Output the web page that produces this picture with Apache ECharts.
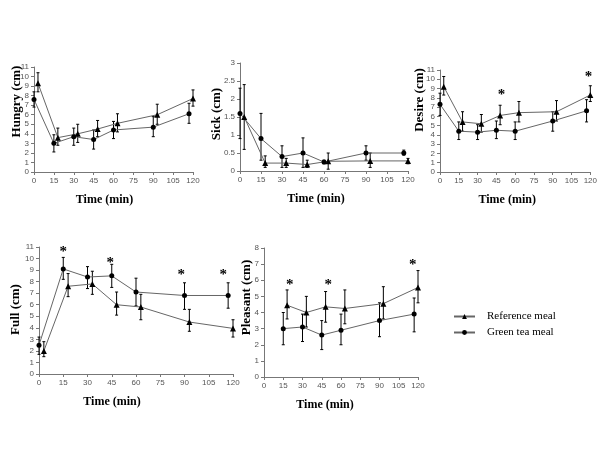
<!DOCTYPE html>
<html><head><meta charset="utf-8">
<script src="https://cdn.jsdelivr.net/npm/echarts@6/dist/echarts.min.js"></script>
<style>html,body{margin:0;padding:0;background:#fff}#c{width:600px;height:450px}</style>
</head><body><div id="c"></div>
<script>
const xTicks = [0, 15, 30, 45, 60, 75, 90, 105, 120];
const timesGreen = [0, 15, 30, 45, 60, 90, 117];
const timesRef = [3, 18, 33, 48, 63, 93, 120];
const timesGreenPleasant = [15, 30, 45, 60, 90, 117];
const timesRefPleasant = [18, 33, 48, 63, 93, 120];

const hungryGreen = [7.6, 3.0, 3.7, 3.4, 4.4, 4.7, 6.1];
const hungryGreenLow = [6.8, 2.1, 2.8, 2.4, 3.5, 3.7, 5.1];
const hungryGreenHigh = [8.4, 3.9, 4.6, 4.4, 5.3, 5.8, 7.2];
const hungryRef = [9.3, 3.6, 4.0, 4.5, 5.1, 6.0, 7.7];
const hungryRefLow = [8.4, 2.8, 3.1, 3.7, 4.2, 5.0, 6.9];
const hungryRefHigh = [10.4, 4.6, 5.0, 5.4, 6.1, 7.1, 8.6];

const sickGreen = [1.6, 0.9, 0.4, 0.5, 0.25, 0.5, 0.5];
const sickGreenLow = [0.9, 0.3, 0.1, 0.1, 0.2, 0.3, 0.44];
const sickGreenHigh = [2.3, 1.6, 0.7, 0.92, 0.3, 0.7, 0.58];
const sickRef = [1.5, 0.22, 0.22, 0.18, 0.27, 0.28, 0.28];
const sickRefLow = [0.6, 0.1, 0.1, 0.1, 0.05, 0.1, 0.2];
const sickRefHigh = [2.4, 0.42, 0.35, 0.3, 0.5, 0.5, 0.35];

const desireGreen = [7.3, 4.4, 4.3, 4.5, 4.4, 5.5, 6.6];
const desireGreenLow = [6.1, 3.5, 3.5, 3.6, 3.5, 4.4, 5.4];
const desireGreenHigh = [8.5, 5.4, 5.1, 5.5, 5.4, 6.5, 7.8];
const desireRef = [9.2, 5.4, 5.2, 6.1, 6.4, 6.5, 8.3];
const desireRefLow = [8.3, 4.4, 4.3, 5.1, 5.4, 5.5, 7.6];
const desireRefHigh = [10.3, 6.5, 6.2, 7.2, 7.6, 7.7, 9.3];

const fullGreen = [2.5, 9.1, 8.4, 8.5, 7.1, 6.8, 6.8];
const fullGreenLow = [1.7, 8.2, 7.4, 7.5, 5.9, 5.6, 5.7];
const fullGreenHigh = [3.2, 10.1, 9.3, 9.5, 8.3, 7.9, 7.9];
const fullRef = [2.0, 7.6, 7.8, 6.0, 5.8, 4.5, 3.95];
const fullRefLow = [1.5, 6.7, 6.9, 5.1, 4.7, 3.7, 3.2];
const fullRefHigh = [2.8, 8.7, 8.9, 7.1, 6.9, 5.6, 4.7];

const pleasantGreen = [3.0, 3.1, 2.6, 2.9, 3.5, 3.9];
const pleasantGreenLow = [2.0, 2.2, 1.7, 2.0, 2.5, 2.8];
const pleasantGreenHigh = [4.0, 3.9, 3.5, 3.9, 4.6, 4.9];
const pleasantRef = [4.45, 4.0, 4.35, 4.25, 4.55, 5.55];
const pleasantRefLow = [3.6, 3.1, 3.4, 3.3, 3.6, 4.6];
const pleasantRefHigh = [5.4, 5.0, 5.3, 5.4, 5.6, 6.6];

const desireStars = [[49, 8.6], [118.5, 10.6]];
const fullStars = [[15, 10.8], [44, 9.9], [88, 8.8], [114, 8.8]];
const pleasantStars = [[20, 5.9], [50, 5.9], [116, 7.1]];

const seriesNames = ['Reference meal', 'Green tea meal'];

// layout per panel: grid, y-title gap / upward shift, x-title leftward shift
const panels = [
  {title: 'Hungry (cm)', grid: {left: 34, top: 67, width: 159, height: 105}, ymax: 11, yint: 1, yGap: 11, yUp: 18, xLeft: 9,
   tg: timesGreen, tr: timesRef, g: hungryGreen, gl: hungryGreenLow, gh: hungryGreenHigh, r: hungryRef, rl: hungryRefLow, rh: hungryRefHigh, stars: []},
  {title: 'Sick (cm)', grid: {left: 240, top: 63, width: 168, height: 108}, ymax: 3, yint: 0.5, yGap: 17, yUp: 3, xLeft: 8,
   tg: timesGreen, tr: timesRef, g: sickGreen, gl: sickGreenLow, gh: sickGreenHigh, r: sickRef, rl: sickRefLow, rh: sickRefHigh, stars: []},
  {title: 'Desire (cm)', grid: {left: 440, top: 70, width: 153, height: 102}, ymax: 11, yint: 1, yGap: 14, yUp: 21, xLeft: 8,
   tg: timesGreen, tr: timesRef, g: desireGreen, gl: desireGreenLow, gh: desireGreenHigh, r: desireRef, rl: desireRefLow, rh: desireRefHigh, stars: desireStars},
  {title: 'Full (cm)', grid: {left: 39, top: 247, width: 194, height: 127}, ymax: 11, yint: 1, yGap: 17, yUp: 1, xLeft: 24,
   tg: timesGreen, tr: timesRef, g: fullGreen, gl: fullGreenLow, gh: fullGreenHigh, r: fullRef, rl: fullRefLow, rh: fullRefHigh, stars: fullStars},
  {title: 'Pleasant (cm)', grid: {left: 264, top: 248, width: 154, height: 129}, ymax: 8, yint: 1, yGap: 11, yUp: 15, xLeft: 16,
   tg: timesGreenPleasant, tr: timesRefPleasant, g: pleasantGreen, gl: pleasantGreenLow, gh: pleasantGreenHigh, r: pleasantRef, rl: pleasantRefLow, rh: pleasantRefHigh, stars: pleasantStars}
];

const titleFont = {fontFamily: 'Liberation Serif', fontWeight: 'bold', fontSize: 13, color: '#000'};
const tickFont = {fontFamily: 'Liberation Sans', fontSize: 8, color: '#555'};
const axisColor = '#777';

const grids = [], xAxes = [], yAxes = [], series = [];

function errRender(params, api) {
  const x = api.value(0);
  const lo = api.coord([x, api.value(1)]);
  const hi = api.coord([x, api.value(2)]);
  const cap = 1.5;
  const st = {stroke: '#000', lineWidth: 1};
  return {type: 'group', children: [
    {type: 'line', shape: {x1: lo[0], y1: lo[1], x2: hi[0], y2: hi[1]}, style: st},
    {type: 'line', shape: {x1: hi[0] - cap, y1: hi[1], x2: hi[0] + cap, y2: hi[1]}, style: st},
    {type: 'line', shape: {x1: lo[0] - cap, y1: lo[1], x2: lo[0] + cap, y2: lo[1]}, style: st}
  ]};
}
function starRender(params, api) {
  const p = api.coord([api.value(0), api.value(1)]);
  return {type: 'text', x: p[0], y: p[1] + 3, style: {text: '*', fontFamily: 'Liberation Serif', fontWeight: 'bold', fontSize: 15, fill: '#000', align: 'center', verticalAlign: 'middle'}};
}

panels.forEach((p, i) => {
  grids.push(p.grid);
  xAxes.push({type: 'value', gridIndex: i, min: xTicks[0], max: xTicks[xTicks.length - 1], interval: xTicks[1] - xTicks[0],
    name: 'Time (min)', nameLocation: 'middle', nameGap: 22, nameMoveOverlap: false,
    nameTextStyle: Object.assign({}, titleFont, {fontSize: 12, padding: [0, 2 * p.xLeft, 0, 0]}),
    axisLine: {show: true, lineStyle: {color: axisColor, width: 1}}, axisTick: {show: true, length: 3, lineStyle: {color: axisColor}},
    axisLabel: Object.assign({margin: 5}, tickFont), splitLine: {show: false}});
  yAxes.push({type: 'value', gridIndex: i, min: 0, max: p.ymax, interval: p.yint,
    name: p.title, nameLocation: 'middle', nameGap: p.yGap, nameRotate: 90, nameMoveOverlap: false,
    nameTextStyle: Object.assign({}, titleFont, {padding: [0, 0, 0, 2 * p.yUp]}),
    axisLine: {show: true, lineStyle: {color: axisColor, width: 1}}, axisTick: {show: true, length: 3, lineStyle: {color: axisColor}},
    axisLabel: Object.assign({margin: 5}, tickFont), splitLine: {show: false}});
  const ref = p.tr.map((t, k) => [t, p.r[k]]);
  const grn = p.tg.map((t, k) => [t, p.g[k]]);
  series.push({type: 'line', name: seriesNames[0], xAxisIndex: i, yAxisIndex: i, data: ref, symbol: 'triangle', symbolSize: 6,
    itemStyle: {color: '#000'}, lineStyle: {color: '#666', width: 1}, animation: false, z: 3});
  series.push({type: 'line', name: seriesNames[1], xAxisIndex: i, yAxisIndex: i, data: grn, symbol: 'circle', symbolSize: 5,
    itemStyle: {color: '#000'}, lineStyle: {color: '#666', width: 1}, animation: false, z: 3});
  series.push({type: 'custom', xAxisIndex: i, yAxisIndex: i, renderItem: errRender, animation: false, z: 2,
    data: p.tr.map((t, k) => [t, p.rl[k], p.rh[k]]).concat(p.tg.map((t, k) => [t, p.gl[k], p.gh[k]]))});
  if (p.stars.length) {
    series.push({type: 'custom', xAxisIndex: i, yAxisIndex: i, renderItem: starRender, animation: false, z: 4, data: p.stars});
  }
});

const chart = echarts.init(document.getElementById('c'), null, {renderer: 'canvas'});
chart.setOption({
  backgroundColor: '#fff',
  animation: false,
  grid: grids, xAxis: xAxes, yAxis: yAxes, series: series,
  legend: {data: seriesNames, orient: 'vertical', left: 453, top: 311, padding: 0, itemWidth: 21, itemHeight: 6, itemGap: 5,
    textStyle: {fontFamily: 'Liberation Serif', fontSize: 11, color: '#000', padding: [0, 0, 0, 7]}}
});
</script></body></html>
